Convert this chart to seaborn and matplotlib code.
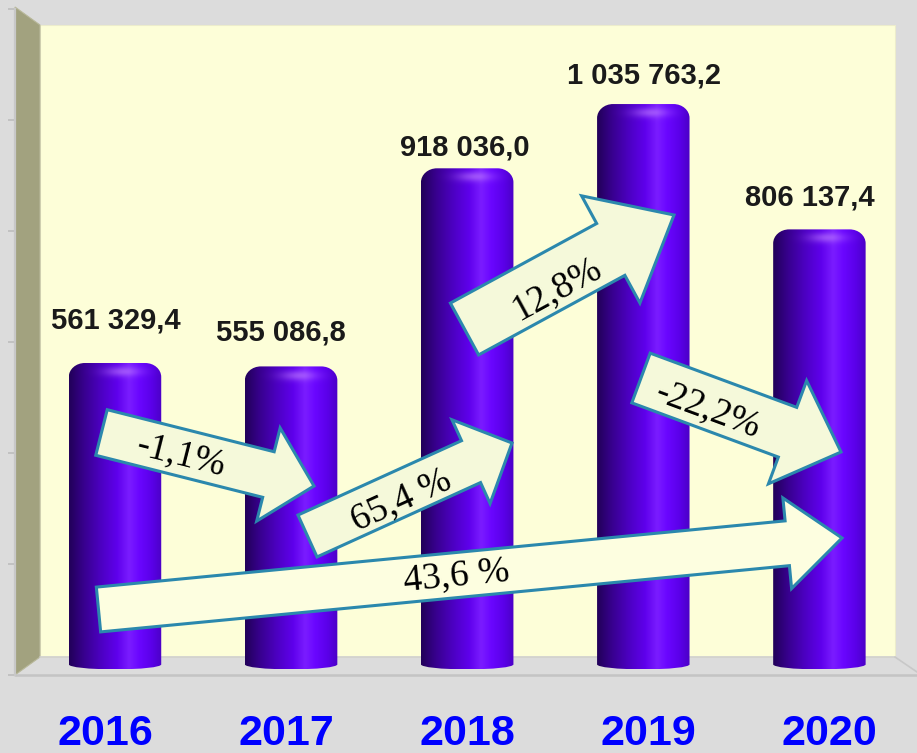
import numpy as np
import pandas as pd
import matplotlib
matplotlib.use("Agg")
import matplotlib.pyplot as plt
import seaborn as sns
from matplotlib.path import Path
from matplotlib.patches import Polygon, PathPatch
from matplotlib.colors import LinearSegmentedColormap, to_rgb

# ---------------------------------------------------------------------------
# Data
# ---------------------------------------------------------------------------
YEARS = ["2016", "2017", "2018", "2019", "2020"]
VALUES = [561329.4, 555086.8, 918036.0, 1035763.2, 806137.4]
CHANGE_LABELS = ["-1,1%", "65,4 %", "12,8%", "-22,2%", "43,6 %"]

Y_MAX = 1_200_000
Y_STEP = 200_000

# value labels: "1 035 763,2" style
VALUE_LABELS = [f"{v:,.1f}".replace(",", " ").replace(".", ",") for v in VALUES]

# ---------------------------------------------------------------------------
# Layout (pixels of a 917x753 canvas)
# ---------------------------------------------------------------------------
W, H = 917, 753
BG_GRAY = "#dcdcdc"
WALL = "#fdfed8"
SIDE_WALL = "#a2a27f"
EDGE = "#c4c4c4"

# label offsets above bar top (px): (dx, dy of baseline)
LABEL_OFFSETS = [(0.5, 34.6), (-10.5, 25.5), (-2.5, 13.0), (0.5, 21.0), (-9.5, 23.5)]

# arrows: tail centre, tip, shaft width, head width, head length, text centre, fill
ARROWS = [
    ((101.5, 432.5), (314, 486), 47, 96, 47, (181, 455), "#f5f9da"),
    ((307.5, 536), (512, 443), 46, 92, 45, (401, 500), "#f5f9da"),
    ((464.5, 329), (674, 215), 59, 122, 72, (557, 289), "#f5f9da"),
    ((641, 378), (841, 452), 53, 110, 57, (708, 410), "#f5f9da"),
    ((98.5, 609.5), (842, 538), 45, 91, 55, (456, 576), "#fdfee0"),
]

BAR_CMAP = LinearSegmentedColormap.from_list("cyl", [
    (0.00, "#22005a"),
    (0.15, "#37008c"),
    (0.35, "#4d00c4"),
    (0.52, "#5f00ec"),
    (0.65, "#7a1cff"),
    (0.76, "#6a06ff"),
    (0.90, "#5a00e8"),
    (1.00, "#4c00c8"),
])


def px_rect(left, top, right, bottom):
    """Pixel box -> figure fraction rect."""
    return [left / W, 1 - bottom / H, (right - left) / W, (bottom - top) / H]


def block_arrow(tail, tip, shaft_w, head_w, head_len):
    tail = np.array(tail, float)
    tip = np.array(tip, float)
    d = tip - tail
    L = np.hypot(*d)
    u = d / L
    n = np.array([-u[1], u[0]])
    base = tip - u * head_len
    pts = [
        tail + n * shaft_w / 2,
        base + n * shaft_w / 2,
        base + n * head_w / 2,
        tip,
        base - n * head_w / 2,
        base - n * shaft_w / 2,
        tail - n * shaft_w / 2,
    ]
    return np.array(pts)


def cylinder_path(left, right, top, bottom, rx=16, ry=14, rb=5):
    k = 0.5523
    cx = (left + right) / 2
    w2 = (right - left) / 2
    yb = bottom - rb
    verts = [
        (left, yb),
        (left, top + ry),
        (left, top + ry - k * ry), (left + rx - k * rx, top), (left + rx, top),
        (right - rx, top),
        (right - rx + k * rx, top), (right, top + ry - k * ry), (right, top + ry),
        (right, yb),
        (right, yb + k * rb), (cx + k * w2, bottom), (cx, bottom),
        (cx - k * w2, bottom), (left, yb + k * rb), (left, yb),
        (left, yb),
    ]
    codes = ([Path.MOVETO, Path.LINETO] + [Path.CURVE4] * 3 + [Path.LINETO]
             + [Path.CURVE4] * 3 + [Path.LINETO] + [Path.CURVE4] * 6 + [Path.CLOSEPOLY])
    return Path(verts, codes)


def cylinder_image(height):
    rows = max(int(height), 2)
    xs = np.linspace(0, 1, 80)
    base = BAR_CMAP(xs)[None, :, :].repeat(rows, axis=0)
    ys = np.arange(rows)[:, None]
    glow = np.exp(-((ys - 9) / 5.0) ** 2) * np.exp(-((xs[None, :] - 0.58) / 0.2) ** 2) * 0.45
    hl = np.array(to_rgb("#d9a0ff"))
    base[:, :, :3] = base[:, :, :3] * (1 - glow[:, :, None]) + hl * glow[:, :, None]
    return base


# ---------------------------------------------------------------------------
# Figure
# ---------------------------------------------------------------------------
sns.set_theme(style="white")
plt.rcParams["font.family"] = ["Liberation Sans", "DejaVu Sans"]

fig = plt.figure(figsize=(W / 100, H / 100), dpi=100)
fig.patch.set_facecolor(BG_GRAY)

# decoration layer in pixel coordinates
bg = fig.add_axes([0, 0, 1, 1])
bg.set_facecolor("none")
bg.axis("off")
bg.set_xlim(0, W)
bg.set_ylim(H, 0)

# back wall, side wall, floor edges
bg.add_patch(Polygon([(40, 25), (895, 25), (895, 657), (40, 657)],
                     closed=True, fc=WALL, ec="#ececcc", lw=0.8, zorder=1))
bg.add_patch(Polygon([(15, 7), (40, 25), (40, 657), (15, 675)],
                     closed=True, fc=SIDE_WALL, ec="#b8b89a", lw=0.8, zorder=1))
bg.plot([40, 895], [657, 657], color="#cfcfcf", lw=1.2, zorder=1)
bg.plot([895, 917], [657, 672], color="#c8c8c8", lw=1.2, zorder=1)
bg.plot([15, 917], [675, 675], color=EDGE, lw=1.8, zorder=1)

# left value axis (front edge): ticks only
tick_ax = fig.add_axes(px_rect(15, 9, 60, 675))
tick_ax.set_facecolor("none")
tick_ax.set_ylim(0, Y_MAX)
tick_ax.set_yticks(np.arange(0, Y_MAX + 1, Y_STEP))
tick_ax.set_xticks([])
tick_ax.tick_params(axis="y", left=True, direction="out", length=5, width=1.4,
                    color="#c2c2c2", labelleft=False)
for side in ["top", "right", "bottom"]:
    tick_ax.spines[side].set_visible(False)
tick_ax.spines["left"].set_color("#c8c8c8")
tick_ax.spines["left"].set_linewidth(1.6)

# data axes: bar scale (0 at y=669.4 px, 1.2M at y=14.4 px)
BAR0 = 115.0
STEP = 176.1
ax = fig.add_axes(px_rect(0, 14.4, W, 669.4))
ax.set_facecolor("none")
df = pd.DataFrame({"year": YEARS, "value": VALUES})
sns.barplot(data=df, x="year", y="value", ax=ax, width=0.525,
            color="#5a00e8", saturation=1, errorbar=None)
ax.set_xlim(-BAR0 / STEP, (W - BAR0) / STEP)
ax.set_ylim(0, Y_MAX)
ax.axis("off")

# replace flat bars by shaded cylinders drawn in pixel space
to_px = ax.transData + bg.transData.inverted()
for p in ax.patches:
    (x0, y0), (x1, y1) = to_px.transform([[p.get_x(), 0],
                                         [p.get_x() + p.get_width(), p.get_height()]])
    top, bottom = min(y0, y1), max(y0, y1)
    path = cylinder_path(x0, x1, top, bottom)
    clip = PathPatch(path, transform=bg.transData, fc="none", ec="none")
    bg.add_patch(clip)
    im = bg.imshow(cylinder_image(bottom - top), extent=(x0, x1, bottom, top),
                   origin="upper", aspect="auto", interpolation="bilinear", zorder=2)
    im.set_clip_path(clip)
    p.set_visible(False)

# value labels above bars
for i, (v, lab) in enumerate(zip(VALUES, VALUE_LABELS)):
    dx, dy = LABEL_OFFSETS[i]
    ax.annotate(lab, xy=(i, v), xytext=(dx * 0.72, dy * 0.72),
                textcoords="offset points", ha="center", va="baseline",
                fontsize=21, fontweight="bold", color="#1a1a1a",
                annotation_clip=False)

# year labels under the floor (baseline ~745 px)
for i, yr in enumerate(YEARS):
    ax.annotate(yr, xy=(i, 0), xytext=((i - 2) * 5 * 0.72, -75.6 * 0.72),
                textcoords="offset points", ha="center", va="baseline",
                fontsize=31, fontweight="bold", color="#0000ff",
                annotation_clip=False)

# growth arrows
for (tail, tip, sw, hw, hl, tc, fc), lab in zip(ARROWS, CHANGE_LABELS):
    pts = block_arrow(tail, tip, sw, hw, hl)
    bg.add_patch(Polygon(pts, closed=True, fc=fc, ec="#2b88ad", lw=2.2,
                         joinstyle="miter", zorder=5))
    ang = np.degrees(np.arctan2(-(tip[1] - tail[1]), tip[0] - tail[0]))
    bg.text(tc[0], tc[1], lab, rotation=ang, rotation_mode="anchor",
            ha="center", va="center", fontsize=27, color="black",
            family=["Liberation Serif", "DejaVu Serif"], zorder=6)

bg.set_xlim(0, W)
bg.set_ylim(H, 0)

fig.savefig("out.png", dpi=100, facecolor=fig.get_facecolor())
